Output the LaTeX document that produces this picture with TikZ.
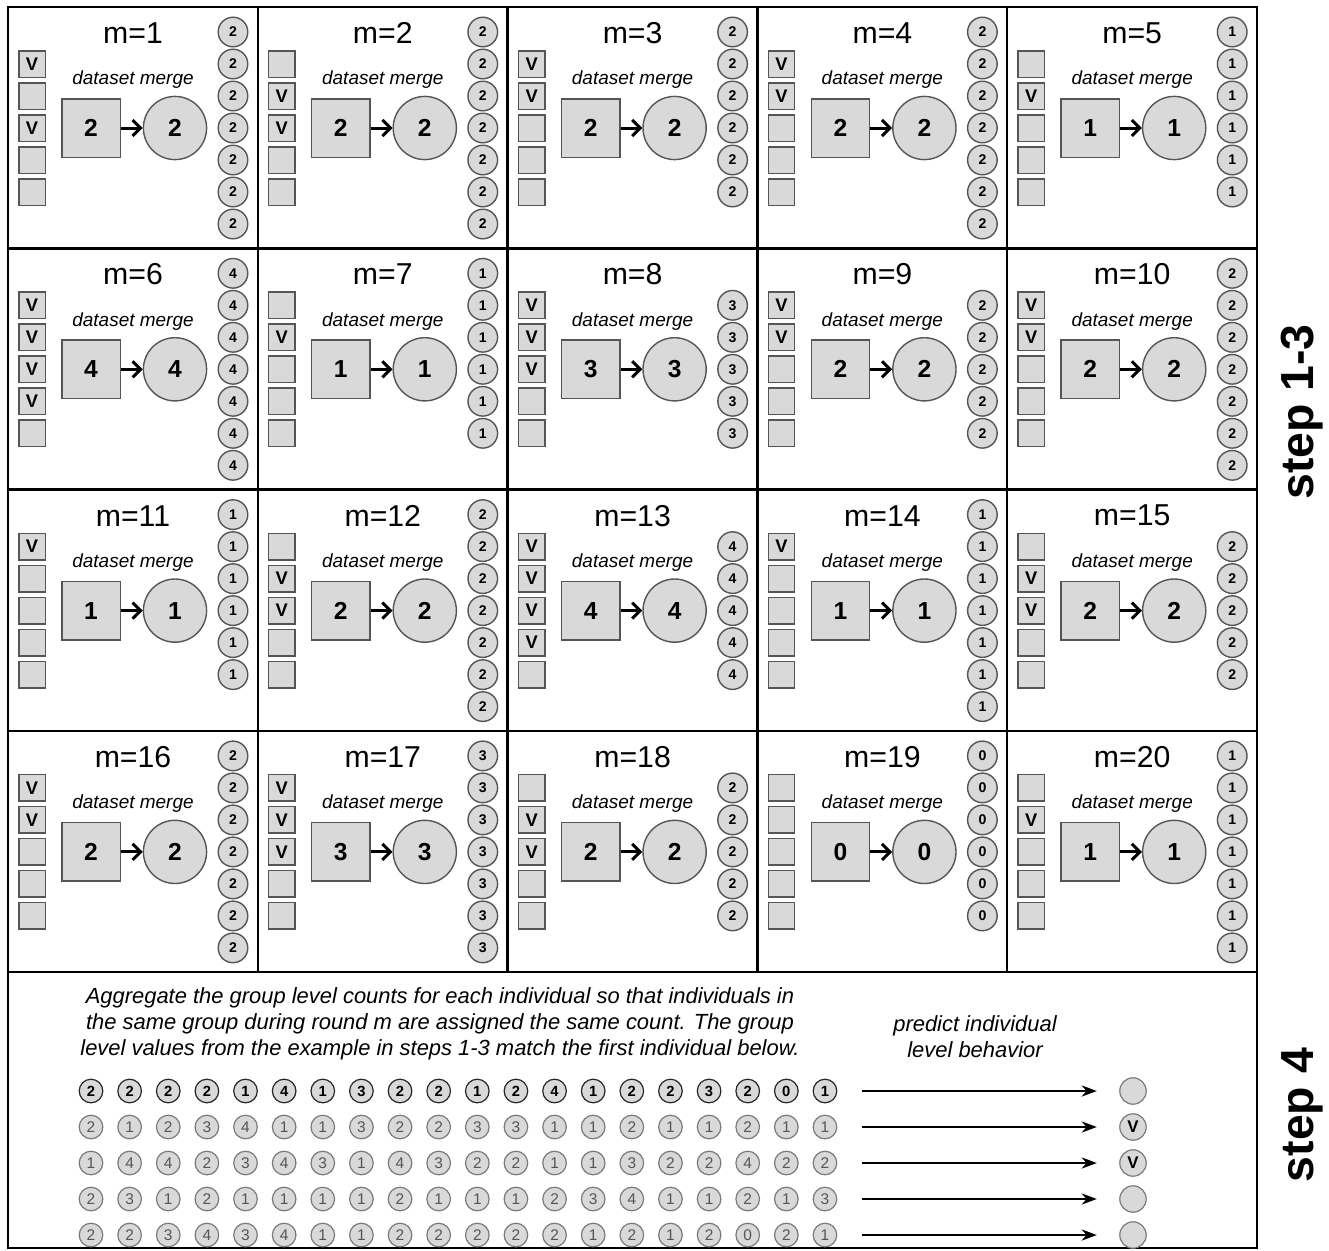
\documentclass[tikz,border=0pt]{standalone}
\usepackage{fontspec}
\setmainfont{Liberation Sans}
\usetikzlibrary{arrows.meta}
\definecolor{cellgrey}{HTML}{D9D9D9}
\definecolor{edgegrey}{HTML}{555555}
\definecolor{softgrey}{HTML}{7A7A7A}

\begin{document}
\begin{tikzpicture}[x=0.25mm, y=-0.25mm,
          panel/.style={line width=0.6mm},
          mlabel/.style={font=\fontsize{21.5}{24}\selectfont},
          mergetxt/.style={font=\fontsize{13.5}{16}\selectfont\itshape},
          vbox/.style={draw=edgegrey, fill=cellgrey, line width=0.35mm, minimum size=6.6mm, inner sep=0pt, font=\fontsize{13}{13}\selectfont\bfseries},
          grpbox/.style={draw=edgegrey, fill=cellgrey, line width=0.35mm, minimum size=14.6mm, inner sep=0pt, font=\fontsize{17.5}{17.5}\selectfont\bfseries},
          grpcirc/.style={circle, draw=edgegrey, fill=cellgrey, line width=0.35mm, minimum size=15.8mm, inner sep=0pt, font=\fontsize{17.5}{17.5}\selectfont\bfseries},
          cnt/.style={circle, draw=edgegrey, fill=cellgrey, line width=0.35mm, minimum size=7.4mm, inner sep=0pt, font=\fontsize{10}{10}\selectfont\bfseries},
          mergearrow/.style={-{Straight Barb[length=2mm, width=4mm]}, line width=0.75mm},
          indiv/.style={circle, draw=softgrey, fill=cellgrey, line width=0.3mm, minimum size=5.9mm, inner sep=0pt, text=edgegrey, font=\fontsize{11}{11}\selectfont},
          firstindiv/.style={indiv, draw=black!85, text=black, font=\fontsize{10.5}{10.5}\selectfont\bfseries},
          predcirc/.style={circle, draw=softgrey, fill=cellgrey, line width=0.3mm, minimum size=6.6mm, inner sep=0pt, font=\fontsize{12}{12}\selectfont\bfseries},
          predarrow/.style={-{Stealth[length=3.8mm, width=2.8mm]}, line width=0.5mm, shorten <=6.2mm, shorten >=5.6mm},
          steplbl/.style={rotate=90, font=\fontsize{33}{33}\selectfont\bfseries},
          note/.style={align=center, font=\fontsize{15.6}{18.5}\selectfont\itshape}]
  \useasboundingbox (0,0) rectangle (1329,1250);
  \draw[panel] (8,7) rectangle (1257,1248);
  \foreach \gx in {257.8,507.6,757.4,1007.2} \draw[panel] (\gx,7) -- (\gx,972);
  \foreach \gy in {248.3,489.6,730.9,972} \draw[panel] (8,\gy) -- (1257,\gy);
  \foreach \m/\c/\n/\vs in {1/2/7/{1,0,1,0,0}, 2/2/7/{0,1,1,0,0}, 3/2/6/{1,1,0,0,0}, 4/2/7/{1,1,0,0,0}, 5/1/6/{0,1,0,0,0},
      6/4/7/{1,1,1,1,0}, 7/1/6/{0,1,0,0,0}, 8/3/5/{1,1,1,0,0}, 9/2/5/{1,1,0,0,0}, 10/2/7/{1,1,0,0,0},
      11/1/6/{1,0,0,0,0}, 12/2/7/{0,1,1,0,0}, 13/4/5/{1,1,1,1,0}, 14/1/7/{1,0,0,0,0}, 15/2/5/{0,1,1,0,0},
      16/2/7/{1,1,0,0,0}, 17/3/7/{1,1,1,0,0}, 18/2/5/{0,1,1,0,0}, 19/0/6/{0,0,0,0,0}, 20/1/7/{0,1,0,0,0}} {
    \pgfmathtruncatemacro\col{mod(\m-1,5)}
    \pgfmathtruncatemacro\row{(\m-1)/5}
    \pgfmathsetmacro\xo{8+249.8*\col}
    \pgfmathsetmacro\yo{7+241.3*\row}
    \pgfmathtruncatemacro\st{\n==5 ? 1 : 0}
    \node[mlabel] (mt\m) at ({\xo+125},{\yo+26}) {m=\m};
    \node[mergetxt] (dm\m) at ({\xo+125},{\yo+73}) {dataset merge};
    \foreach \v [count=\k from 0] in \vs
      \node[vbox] (v\m-\k) at ({\xo+24},{\yo+57+32*\k}) {\ifnum\v=1 V\fi};
    \node[grpbox] (sq\m) at ({\xo+83},{\yo+121}) {\c};
    \node[grpcirc] (gc\m) at ({\xo+167},{\yo+121}) {\c};
    \draw[mergearrow] (sq\m) -- (gc\m);
    \foreach \j in {1,...,\n}
      \node[cnt] (s\m-\j) at ({\xo+225},{\yo+25+32*(\j-1+\st)}) {\c};
  }
  \node[note] (agg) at (440,1024) {Aggregate the group level counts for each individual so that individuals in\\the same group during round m are assigned the same count. The group\\level values from the example in steps 1-3 match the first individual below.};
  \node[note] (pred) at (975,1037) {predict individual\\level behavior};
  \foreach \c [count=\k] in {2,2,2,2,1,4,1,3,2,2,1,2,4,1,2,2,3,2,0,1}
    \node[firstindiv] (i1-\k) at ({91+38.63*(\k-1)},1091) {\c};
  \foreach \vals [count=\r from 2] in {{2,1,2,3,4,1,1,3,2,2,3,3,1,1,2,1,1,2,1,1},
      {1,4,4,2,3,4,3,1,4,3,2,2,1,1,3,2,2,4,2,2},
      {2,3,1,2,1,1,1,1,2,1,1,1,2,3,4,1,1,2,1,3},
      {2,2,3,4,3,4,1,1,2,2,2,2,2,1,2,1,2,0,2,1}}
    \foreach \c [count=\k] in \vals
      \node[indiv] (i\r-\k) at ({91+38.63*(\k-1)},{1091+36*(\r-1)}) {\c};
  \foreach \r/\lab in {1/{},2/V,3/V,4/{},5/{}} {
    \node[predcirc] (p\r) at (1133,{1091+36*(\r-1)}) {\lab};
    \draw[predarrow] (i\r-20) -- (p\r);
  }
  \node[steplbl] (s13) at (1302,412) {step 1-3};
  \node[steplbl] (s4) at (1302,1115) {step 4};
\end{tikzpicture}
\end{document}
